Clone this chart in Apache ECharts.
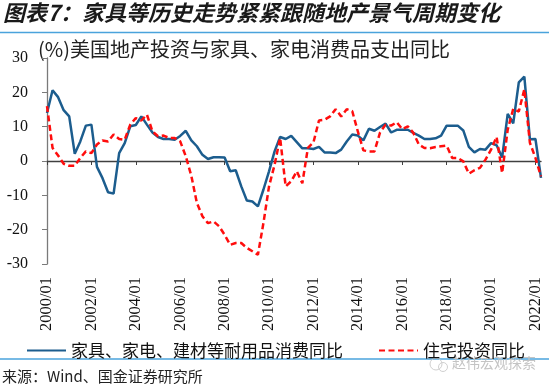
<!DOCTYPE html>
<html>
<head>
<meta charset="utf-8">
<script src="https://cdn.jsdelivr.net/npm/echarts@6/dist/echarts.min.js"></script>
<style>
html,body{margin:0;padding:0;background:#fff;}
#c{width:550px;height:384px;}
</style>
</head>
<body>
<div id="c"></div>
<script>
// Quarterly categories 2000Q1 .. 2022Q2 (labelled yyyy/mm)
const categories = [];
for (let y = 2000; y <= 2022; y++) {
  for (const m of ['01','04','07','10']) {
    if (y === 2022 && (m === '07' || m === '10')) continue;
    categories.push(y + '/' + m);
  }
}
const durableName = '家具、家电、建材等耐用品消费同比';
const housingName = '住宅投资同比';
const durableYoY = [
  14, 20.6, 18.6, 14.8, 13, 2.1, 5.7, 10.3, 10.6, -1.7,
  -5, -9.1, -9.5, 2.3, 5.2, 10.1, 10.5, 13, 10.6, 8.3,
  7, 6.4, 6.4, 6.2, 7.3, 8.8, 6.0, 4.3, 1.8, 0.6,
  1.1, 1.1, 1.0, -3.0, -2.7, -7.4, -11.5, -11.8, -13.2, -8.3,
  -3, 2.8, 7, 6.4, 7.3, 5.5, 3.7, 3.7, 3.5, 4.1,
  2.5, 2.5, 2.3, 3.3, 5.7, 7.7, 7.4, 6, 9.4, 8.8,
  9.9, 10.9, 8.3, 9.1, 9.1, 9.1, 8.2, 7.4, 6.4, 6.4,
  6.6, 7.4, 10.3, 10.3, 10.3, 8.9, 4.1, 2.5, 3.5, 3.3,
  5.2, 4.6, 1.0, 13.7, 11.0, 22.9, 24.6, 6.3, 6.4, -4.9
];
const housingYoY = [
  16, 3.8, 1.6, -0.8, -1.4, -1.4, 0.9, 2.8, 2.3, 4.8,
  6.0, 5.7, 7.7, 6.4, 6.2, 10.6, 12.5, 11.8, 13.5, 8.6,
  7.2, 7.4, 6.7, 6.7, 5.7, 1.4, -4.3, -12.2, -16.1, -18.1,
  -17.6, -19, -21.5, -24.4, -23.9, -23.9, -25.3, -26.3, -27.3, -18,
  -7.4, -1.1, 6.7, -7.4, -5.9, -3.0, -6.5, 3.8, 5.4, 11.8,
  12, 13, 15.1, 13, 15.1, 14.5, 8.6, 3.1, 2.8, 2.8,
  8.3, 10.6, 10.3, 11.3, 9.3, 10.1, 8.2, 4.8, 3.8, 3.7,
  4.1, 4.3, 4.5, 0.9, 0.9, -0.1, -3.7, -2.7, -2, 0.4,
  3.3, 7, -3.5, 9.1, 15.2, 14.4, 20.9, 5.3, 0.9, -4.5
];
const yTicks = {min: -30, max: 30, interval: 10};

const CJK = '"Noto Sans CJK SC", "Noto Sans", sans-serif';
const SERIF = '"Liberation Serif", "DejaVu Serif", serif';

const chart = echarts.init(document.getElementById('c'), null, {renderer: 'canvas'});
chart.setOption({
  animation: false,
  backgroundColor: '#fff',
  grid: {left: 47, top: 58, width: 494, height: 206, containLabel: false},
  legend: [
    {left: 21, top: 337, itemWidth: 39, itemHeight: 14, itemGap: 0,
     itemStyle: {opacity: 0},
     data: [durableName], textStyle: {fontSize: 17, fontFamily: CJK, color: '#111'}},
    {left: 373, top: 337, itemWidth: 39, itemHeight: 14, itemGap: 0,
     itemStyle: {opacity: 0},
     data: [housingName], textStyle: {fontSize: 17, fontFamily: CJK, color: '#111'}}
  ],
  xAxis: [
    {type: 'category', data: categories, boundaryGap: false, position: 'bottom',
     axisLine: {onZero: true, lineStyle: {color: '#404040', width: 1.3}},
     axisTick: {show: true, interval: 7, length: 4, lineStyle: {color: '#404040'}},
     axisLabel: {show: false}, splitLine: {show: false}},
    {type: 'category', data: categories, boundaryGap: false, position: 'bottom',
     axisLine: {show: false, onZero: false}, axisTick: {show: false},
     axisLabel: {show: true, interval: 7, rotate: 90, margin: 13, fontSize: 16.5,
                 fontFamily: SERIF, color: '#111'},
     splitLine: {show: false}}
  ],
  yAxis: {
    type: 'value', min: yTicks.min, max: yTicks.max, interval: yTicks.interval,
    axisLine: {show: true, lineStyle: {color: '#7a7a7a', width: 1.3}},
    axisTick: {show: true, length: 5, lineStyle: {color: '#7a7a7a'}},
    axisLabel: {fontSize: 16, fontFamily: SERIF, color: '#111', margin: 19},
    splitLine: {show: false}
  },
  series: [
    {name: durableName, type: 'line', data: durableYoY, xAxisIndex: 0,
     symbol: 'none', lineStyle: {color: '#1c5d8e', width: 2.5}, itemStyle: {color: '#1c5d8e'}},
    {name: housingName, type: 'line', data: housingYoY, xAxisIndex: 0,
     symbol: 'none', lineStyle: {color: '#ff0d0d', width: 2.5, type: [6, 3.5]}, itemStyle: {color: '#ff0d0d'}}
  ],
  graphic: [
    {type: 'text', left: 3, top: 2,
     style: {text: '图表7：家具等历史走势紧紧跟随地产景气周期变化', fill: '#1a1a1a',
             font: 'italic bold 22px ' + CJK}},
    {type: 'line', shape: {x1: 0, y1: 32.5, x2: 549, y2: 32.5},
     style: {stroke: '#4aa3dc', lineWidth: 1.5}},
    {type: 'text', left: 38, top: 39,
     style: {text: '(%)美国地产投资与家具、家电消费品支出同比', fill: '#222',
             font: '20px ' + CJK}},
    {type: 'line', shape: {x1: 0, y1: 359, x2: 549, y2: 359},
     style: {stroke: '#4aa3dc', lineWidth: 1.5}},
    {type: 'text', left: 2, top: 369,
     style: {text: '来源：Wind、国金证券研究所', fill: '#222', font: '15px ' + CJK}},
    {type: 'circle', shape: {cx: 436, cy: 364, r: 6},
     style: {fill: 'none', stroke: '#d0d0d0', lineWidth: 1}},
    {type: 'circle', shape: {cx: 443, cy: 367, r: 4.5},
     style: {fill: 'none', stroke: '#d0d0d0', lineWidth: 1}},
    {type: 'text', left: 452, top: 356,
     style: {text: '赵伟宏观探索', fill: '#c4c4c4', font: '14px ' + CJK}}
  ]
});
</script>
</body>
</html>
